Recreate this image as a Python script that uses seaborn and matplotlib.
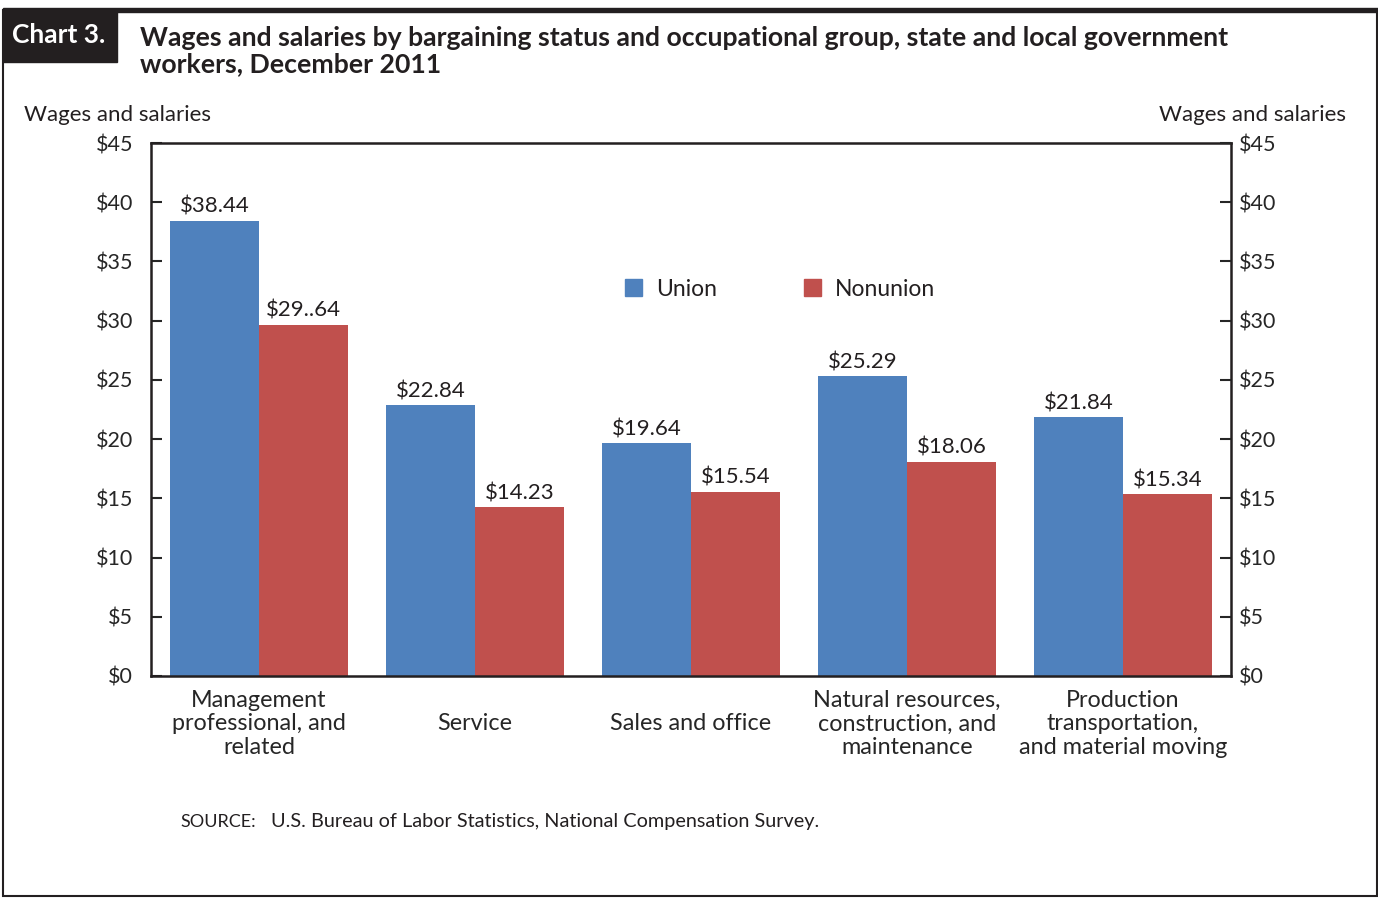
import matplotlib.pyplot as plt
import matplotlib.patches as mpatches
import pandas as pd
import seaborn as sns

categories = [
    "Management\nprofessional, and\nrelated",
    "\nService\n",
    "\nSales and office\n",
    "Natural resources,\nconstruction, and\nmaintenance",
    "Production\ntransportation,\nand material moving",
]
union = [38.44, 22.84, 19.64, 25.29, 21.84]
nonunion = [29.64, 14.23, 15.54, 18.06, 15.34]
union_labels = ["$38.44", "$22.84", "$19.64", "$25.29", "$21.84"]
nonunion_labels = ["$29..64", "$14.23", "$15.54", "$18.06", "$15.34"]
yticks = [0, 5, 10, 15, 20, 25, 30, 35, 40, 45]
ytick_labels = [f"${v}" for v in yticks]

df = pd.DataFrame({
    "group": categories * 2,
    "status": ["Union"] * len(union) + ["Nonunion"] * len(nonunion),
    "wage": union + nonunion,
})
colors = {"Union": "#4F81BD", "Nonunion": "#C0504D"}

sns.set_style("white")
plt.rcParams["font.family"] = ["Lato", "DejaVu Sans"]
plt.rcParams["text.color"] = "#231f20"

W, H = 1378, 898
fig = plt.figure(figsize=(W / 100, H / 100), dpi=100)
ax = fig.add_axes([151 / W, 1 - 676 / H, (1231 - 151) / W, (676 - 143) / H])

sns.barplot(data=df, x="group", y="wage", hue="status", hue_order=["Union", "Nonunion"],
            palette=colors, width=0.824, saturation=1, linewidth=0, legend=False, ax=ax)

ax.bar_label(ax.containers[0], labels=union_labels, padding=3, fontsize=16)
ax.bar_label(ax.containers[1], labels=nonunion_labels, padding=3, fontsize=16)

ax.set_xlim(-0.5, 4.5)
ax.set_ylim(0, 45)
ax.set_yticks(yticks)
ax.set_yticklabels(ytick_labels, fontsize=15.5)
ax.set_xlabel("")
ax.set_ylabel("")
ax.tick_params(axis="y", direction="in", length=8, width=1.5, pad=13, left=True)
ax.tick_params(axis="x", length=0, pad=10, labelsize=16.8)
for lab in ax.get_xticklabels():
    lab.set_linespacing(1.15)
for s in ax.spines.values():
    s.set_visible(True)
    s.set_color("#231f20")
    s.set_linewidth(1.8)

ax2 = ax.twinx()
ax2.set_ylim(0, 45)
ax2.set_yticks(yticks)
ax2.set_yticklabels(ytick_labels, fontsize=15.5)
ax2.tick_params(axis="y", direction="in", length=8, width=1.5, pad=6, right=True)
for s in ax2.spines.values():
    s.set_visible(False)

handles = [mpatches.Patch(color=colors[k], label=k) for k in ["Union", "Nonunion"]]
ax.legend(handles=handles, loc="center", bbox_to_anchor=(780 / W, 1 - 289 / H),
          bbox_transform=fig.transFigure, ncol=2, frameon=False, fontsize=16.5,
          handlelength=0.75, handleheight=0.75, handletextpad=0.6, columnspacing=3.8)

# frame and header
fig.patches.append(mpatches.Rectangle((3 / W, 1 - 896 / H), 1374 / W, 886 / H,
                                      transform=fig.transFigure, fill=False,
                                      edgecolor="#231f20", linewidth=1.5))
fig.patches.append(mpatches.Rectangle((3 / W, 1 - 12 / H), 1375 / W, 4 / H,
                                      transform=fig.transFigure, color="#231f20"))
fig.patches.append(mpatches.Rectangle((3 / W, 1 - 62 / H), 114 / W, 52 / H,
                                      transform=fig.transFigure, color="#231f20"))
fig.text(59 / W, 1 - 35 / H, "Chart 3.", color="white", fontsize=19, fontweight="bold",
         ha="center", va="center")
fig.text(140 / W, 1 - 26 / H,
         "Wages and salaries by bargaining status and occupational group, state and local government\nworkers, December 2011",
         fontsize=19.2, fontweight="bold", ha="left", va="top", linespacing=1.1)

fig.text(24 / W, 1 - 115 / H, "Wages and salaries", fontsize=16, ha="left", va="center")
fig.text(1346 / W, 1 - 115 / H, "Wages and salaries", fontsize=16, ha="right", va="center")

fig.text(180 / W, 1 - 822 / H, "SOURCE:", fontsize=13, ha="left", va="center")
fig.text(271 / W, 1 - 822 / H, "U.S. Bureau of Labor Statistics, National Compensation Survey.",
         fontsize=14.3, ha="left", va="center")

fig.savefig("out.png", dpi=100)
plt.close(fig)
